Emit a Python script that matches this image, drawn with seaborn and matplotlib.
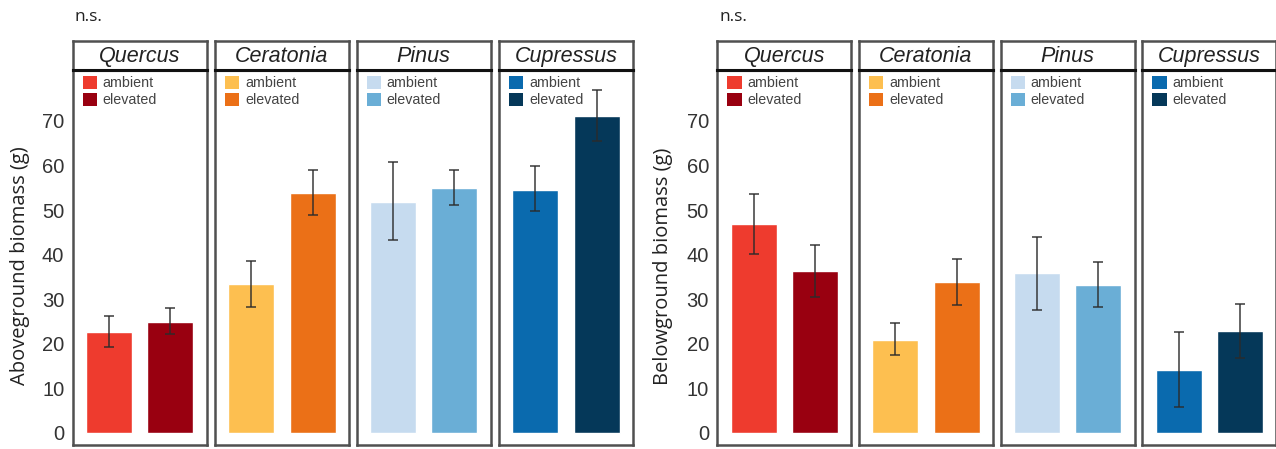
import matplotlib
matplotlib.use("Agg")
import matplotlib.pyplot as plt
from matplotlib.patches import Patch
import numpy as np
import pandas as pd
import seaborn as sns

# Biomass per species under ambient vs elevated conditions (mean with error range)
species = ["Quercus", "Ceratonia", "Pinus", "Cupressus"]
treatments = ["ambient", "elevated"]

above_mean = [[22.7, 24.8], [33.3, 53.9], [51.9, 55.0], [54.6, 71.1]]
above_low = [[19.2, 22.2], [28.3, 48.8], [43.2, 51.1], [49.8, 65.5]]
above_high = [[26.3, 28.0], [38.6, 59.0], [60.7, 59.0], [59.9, 76.9]]

below_mean = [[46.8, 36.3], [20.9, 33.8], [35.8, 33.2], [14.1, 22.9]]
below_low = [[40.1, 30.6], [17.5, 28.6], [27.6, 28.3], [5.8, 16.9]]
below_high = [[53.6, 42.1], [24.6, 39.0], [44.0, 38.3], [22.6, 28.9]]

y_ticks = [0, 10, 20, 30, 40, 50, 60, 70]
panel_titles = ["Aboveground biomass (g)", "Belowground biomass (g)"]
sig_label = "n.s."

palettes = {
    "Quercus": ["#EE3B2E", "#990010"],
    "Ceratonia": ["#FDBF50", "#EB7017"],
    "Pinus": ["#C6DBEF", "#6AAED6"],
    "Cupressus": ["#0A6AAE", "#053859"],
}

sns.set_theme(style="white")
plt.rcParams["font.family"] = ["Liberation Sans", "DejaVu Sans"]

W, H = 1276, 449
fig = plt.figure(figsize=(W / 100, H / 100), dpi=100)
fig.patch.set_facecolor("white")

def fx(px):
    return px / W

def fy(py):
    return 1 - py / H

panel_w = 134
plot_top, plot_bot = 70, 445
head_top = 40.7
lefts = [[72.7, 215, 356.7, 499], [717.3, 859, 1000.7, 1142.3]]
frame_col = "#505050"

datasets = [
    (above_mean, above_low, above_high),
    (below_mean, below_low, below_high),
]

for g, (means, lows, highs) in enumerate(datasets):
    for i, sp in enumerate(species):
        x0 = lefts[g][i]
        ax = fig.add_axes([fx(x0), fy(plot_bot), fx(panel_w), (plot_bot - plot_top) / H])
        df = pd.DataFrame({"treatment": treatments, "biomass": means[i]})
        sns.barplot(data=df, x="treatment", y="biomass", hue="treatment",
                    palette=palettes[sp], width=0.75, errorbar=None,
                    legend=False, ax=ax, saturation=1)
        centers = [p.get_x() + p.get_width() / 2 for p in ax.patches]
        m = np.array(means[i])
        err = [m - np.array(lows[i]), np.array(highs[i]) - m]
        ax.errorbar(centers, m, yerr=err, fmt="none", ecolor="#2b2b2b",
                    elinewidth=1.2, capsize=3.5, capthick=1.2, alpha=0.85)
        ax.set_xlim(-0.59, 1.59)
        ax.set_ylim(-2.7, 81.4)
        ax.set_xlabel("")
        ax.set_ylabel("")
        ax.set_xticks([])
        ax.set_yticks(y_ticks)
        if i == 0:
            ax.tick_params(axis="y", length=0, pad=6, labelsize=14.5,
                           labelcolor="#333333")
        else:
            ax.tick_params(axis="y", length=0, labelleft=False)
        for s in ["left", "right", "bottom"]:
            ax.spines[s].set_color(frame_col)
            ax.spines[s].set_linewidth(1.8)
        ax.spines["top"].set_color("#111111")
        ax.spines["top"].set_linewidth(2.2)

        handles = [Patch(facecolor=c, edgecolor="none") for c in palettes[sp]]
        ax.legend(handles, treatments, loc="upper left",
                  bbox_to_anchor=(10 / panel_w, 1 - 6 / (plot_bot - plot_top)),
                  frameon=False, borderpad=0, borderaxespad=0,
                  handlelength=1.0, handleheight=1.0, handletextpad=0.4,
                  labelspacing=0.2, fontsize=10.3, labelcolor="#444444")

        # Species header strip
        hx = fig.add_axes([fx(x0), fy(plot_top), fx(panel_w), (plot_top - head_top) / H])
        hx.set_xticks([])
        hx.set_yticks([])
        hx.set_xlim(0, 1)
        hx.set_ylim(0, 1)
        for s in ["left", "right", "top"]:
            hx.spines[s].set_color(frame_col)
            hx.spines[s].set_linewidth(1.8)
        hx.spines["bottom"].set_color("#111111")
        hx.spines["bottom"].set_linewidth(2.2)
        hx.text(0.5, 0.47, sp, ha="center", va="center", style="italic",
                fontsize=15.5, color="#222222")

    # Axis title and significance note
    label_x = 20 if g == 0 else 663
    fig.text(fx(label_x), fy(266), panel_titles[g], rotation=90, ha="center",
             va="center", fontsize=14.5, color="#222222",
             family=["Open Sans", "DejaVu Sans"])
    ns_x = 75 if g == 0 else 720
    fig.text(fx(ns_x), fy(17), sig_label, ha="left", va="center",
             fontsize=12.5, color="#222222", family=["Open Sans", "DejaVu Sans"])

fig.savefig("out.png", dpi=100, facecolor="white")
